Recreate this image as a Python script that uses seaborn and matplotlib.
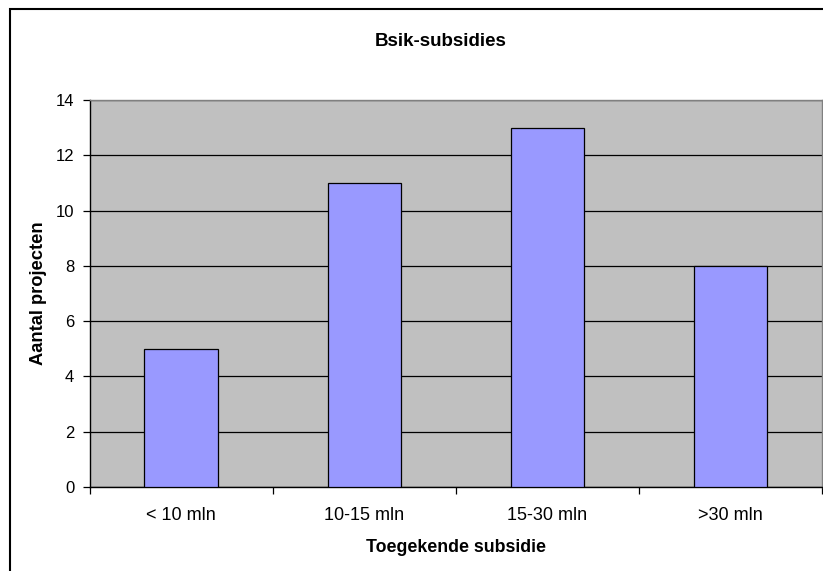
import matplotlib
matplotlib.use("Agg")
import matplotlib.pyplot as plt
from matplotlib.patches import Rectangle
import seaborn as sns
import pandas as pd

categories = ["< 10 mln", "10-15 mln", "15-30 mln", ">30 mln"]
projects = [5, 11, 13, 8]
y_ticks = [0, 2, 4, 6, 8, 10, 12, 14]

sns.set_style("white")
plt.rcParams["font.family"] = ["Liberation Sans", "DejaVu Sans"]
plt.rcParams["text.color"] = "black"
plt.rcParams["axes.labelcolor"] = "black"
plt.rcParams["xtick.color"] = "black"
plt.rcParams["ytick.color"] = "black"

df = pd.DataFrame({"cat": categories, "n": projects})

fig = plt.figure(figsize=(8.23, 5.71), dpi=100)
ax = fig.add_axes([0.1088, 0.147, 0.8900, 0.678])
ax.set_facecolor("#C0C0C0")

sns.barplot(data=df, x="cat", y="n", order=categories, width=0.4,
            color="#9999FF", edgecolor="black", linewidth=0.9,
            saturation=1, ax=ax, zorder=3)

ax.set_xlim(-0.5, len(categories) - 0.5)
ax.set_ylim(0, 14)
ax.set_yticks(y_ticks)
ax.yaxis.grid(True, color="black", linewidth=0.9, zorder=1)
ax.set_axisbelow(True)

# category boundaries carry the tick marks, labels sit between them
ax.set_xticks([i - 0.5 for i in range(len(categories) + 1)])
ax.set_xticklabels([])
ax.set_xticks(range(len(categories)), minor=True)
ax.set_xticklabels(categories, minor=True, fontsize=13)
ax.tick_params(axis="x", which="minor", length=0, pad=14)
ax.tick_params(axis="x", which="major", length=5, width=0.9, color="black", direction="out")
ax.tick_params(axis="y", length=5, width=0.9, color="black", direction="out",
               labelsize=12, pad=6)
ax.tick_params(bottom=True, left=True)

for side in ["left", "bottom"]:
    ax.spines[side].set_color("black")
    ax.spines[side].set_linewidth(1.0)
for side in ["top", "right"]:
    ax.spines[side].set_color("#808080")
    ax.spines[side].set_linewidth(1.0)

ax.set_xlabel("Toegekende subsidie", fontsize=12.8, fontweight="bold", labelpad=11)
ax.set_ylabel("Aantal projecten", fontsize=13.2, fontweight="bold", labelpad=6)

fig.text(441 / 823, 1 - 41 / 571, "Bsik-subsidies", ha="center", va="center",
         fontsize=13.5, fontweight="bold")

# chart area frame
fig.patches.append(Rectangle((10 / 823, -0.1), 1.2, 1 - 8.7 / 571 + 0.1,
                             transform=fig.transFigure, fill=False,
                             edgecolor="black", linewidth=1.5))

fig.savefig("out.png", dpi=100)
